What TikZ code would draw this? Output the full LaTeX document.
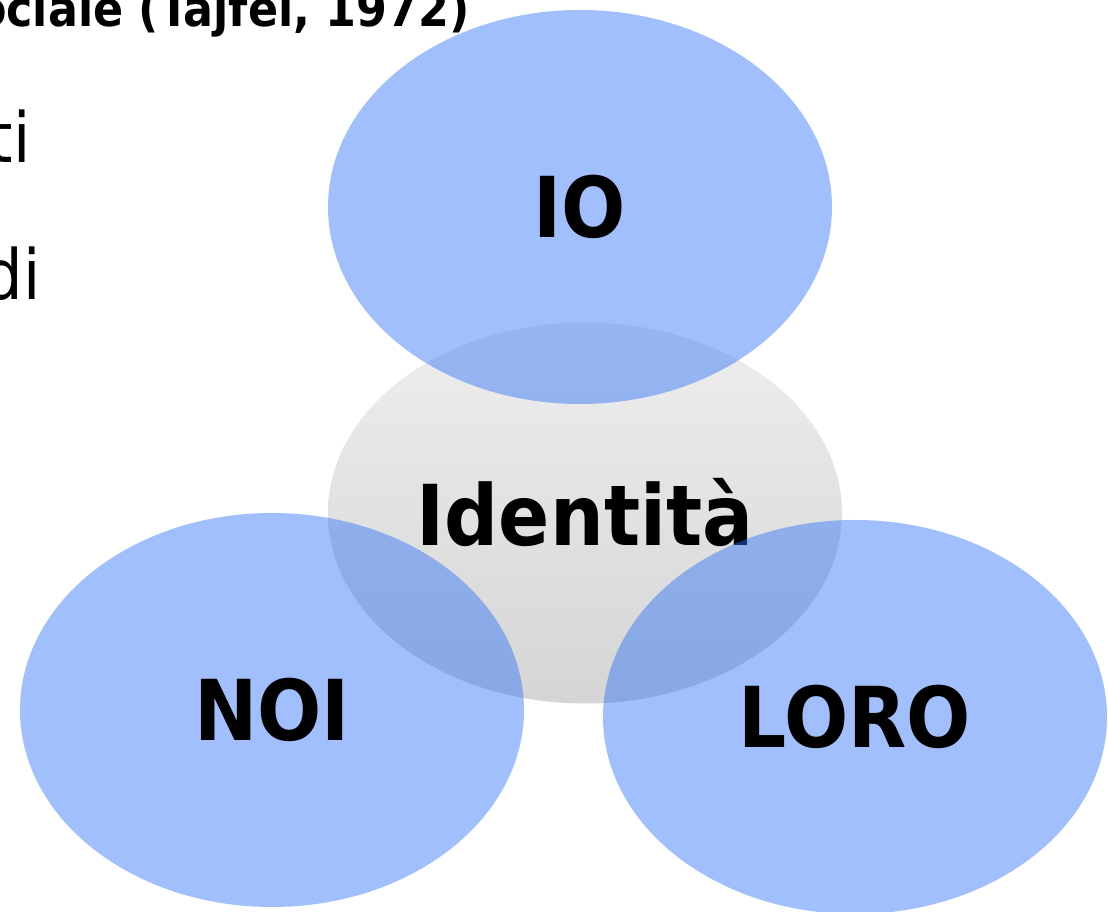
\documentclass[tikz,border=0pt]{standalone}
\usepackage{fontspec}
\setmainfont[FakeStretch=0.9]{DejaVu Sans}
\usetikzlibrary{shapes}

\definecolor{groupblue}{RGB}{44,113,249}
\definecolor{coretop}{RGB}{238,238,238}
\definecolor{corebottom}{RGB}{213,213,213}

\begin{document}
\begin{tikzpicture}[x=0.75pt,y=-0.75pt]
		\tikzstyle {big label} = [font=\fontsize{63}{72}\selectfont\bfseries]
		\tikzstyle {core} = [ellipse, top color=coretop, bottom color=corebottom, minimum width=385.5pt, minimum height=285.75pt, inner sep=0pt, big label]
		\tikzstyle {group} = [ellipse, fill=groupblue, fill opacity=0.45, text opacity=1, minimum width=378pt, minimum height=295.5pt, inner sep=0pt, big label]
		\tikzstyle {slide text} = [anchor=base east, inner sep=0pt]

		\clip (0,0) rectangle (1108,912);

		% testo della slide, tagliato a sinistra
		\node[slide text, font=\fontsize{37}{44}\selectfont\bfseries] (title) at (470,27) {ociale (Tajfel, 1972)};
		\node[slide text, font=\fontsize{52}{60}\selectfont] (lineA) at (31,163) {ti};
		\node[slide text, font=\fontsize{52}{60}\selectfont] (lineB) at (41,300) {di};

		% identita al centro
		\node[core] (identita) at (585,513) {Identità};

		% i tre gruppi
		\node[group] (io) at (580,207) {IO};
		\node[group] (noi) at (272,710) {NOI};
		\node[group] (loro) at (855,717) {LORO};
\end{tikzpicture}
\end{document}
